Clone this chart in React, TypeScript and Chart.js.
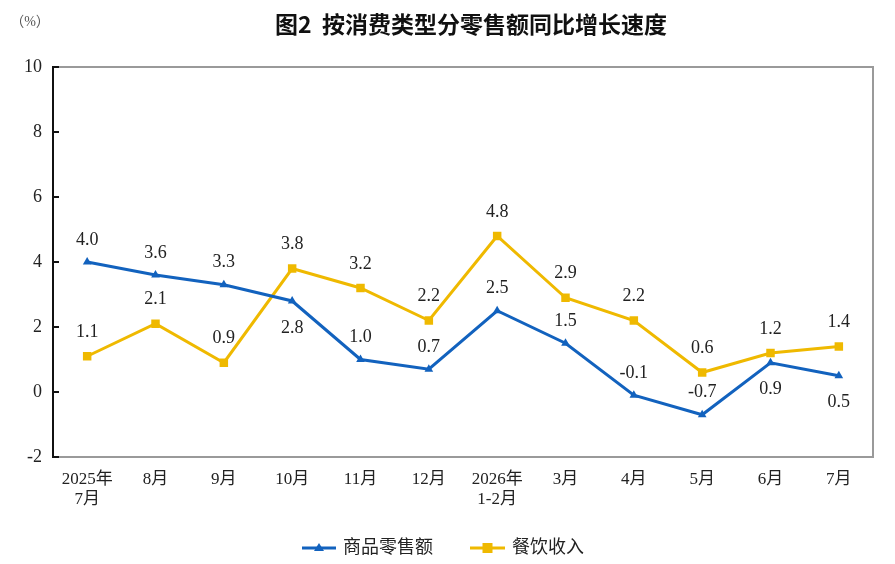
import { useEffect, useRef } from "react"
import { Chart, registerables } from "chart.js"

Chart.register(...registerables)

const categories = [
  ["2025年", "7月"],
  "8月",
  "9月",
  "10月",
  "11月",
  "12月",
  ["2026年", "1-2月"],
  "3月",
  "4月",
  "5月",
  "6月",
  "7月",
]
const goodsRetail = [4.0, 3.6, 3.3, 2.8, 1.0, 0.7, 2.5, 1.5, -0.1, -0.7, 0.9, 0.5]
const cateringIncome = [1.1, 2.1, 0.9, 3.8, 3.2, 2.2, 4.8, 2.9, 2.2, 0.6, 1.2, 1.4]
const yTicks = [-2, 0, 2, 4, 6, 8, 10]

const goodsLabelBelow = [false, false, false, true, false, false, false, false, false, false, true, true]

const BLUE = "#1262BE"
const YELLOW = "#EFB900"
const SERIF = "'Liberation Serif', 'Times New Roman', 'Noto Sans CJK SC', serif"
const SANS = "'Noto Sans CJK SC', 'Noto Sans', sans-serif"

const decorPlugin = {
  id: "decor",
  beforeDatasetsDraw(chart: any) {
    const { ctx, chartArea, scales } = chart
    const { left, right, top, bottom } = chartArea
    ctx.save()
    // grey frame
    ctx.strokeStyle = "#9a9a9a"
    ctx.lineWidth = 2
    ctx.beginPath()
    ctx.moveTo(left, top)
    ctx.lineTo(right, top)
    ctx.lineTo(right, bottom)
    ctx.lineTo(left, bottom)
    ctx.stroke()
    // black left axis with inward ticks
    ctx.strokeStyle = "#111"
    ctx.lineWidth = 2
    ctx.beginPath()
    ctx.moveTo(left, top - 1)
    ctx.lineTo(left, bottom + 1)
    yTicks.forEach((v) => {
      const y = scales.y.getPixelForValue(v)
      ctx.moveTo(left, y)
      ctx.lineTo(left + 6, y)
    })
    ctx.stroke()
    ctx.restore()
  },
  afterDatasetsDraw(chart: any) {
    const { ctx, scales } = chart
    ctx.save()
    ctx.font = `18px ${SERIF}`
    ctx.fillStyle = "#222"
    ctx.textAlign = "center"
    ctx.textBaseline = "middle"
    goodsRetail.forEach((v, i) => {
      const x = scales.x.getPixelForValue(i)
      const y = scales.y.getPixelForValue(v)
      ctx.fillText(v.toFixed(1), x, goodsLabelBelow[i] ? y + 27 : y - 22)
    })
    cateringIncome.forEach((v, i) => {
      const x = scales.x.getPixelForValue(i)
      const y = scales.y.getPixelForValue(v)
      ctx.fillText(v.toFixed(1), x, y - 24)
    })

    // title
    ctx.font = `bold 23px ${SANS}`
    ctx.fillStyle = "#111"
    ctx.fillText("图2  按消费类型分零售额同比增长速度", 471, 24)
    ctx.font = `14px ${SERIF}`
    ctx.fillStyle = "#555"
    ctx.fillText("（%）", 30, 22)

    // legend
    const ly = 548
    const drawItem = (x0: number, x1: number, color: string, shape: "tri" | "sq", text: string, tx: number) => {
      ctx.strokeStyle = color
      ctx.fillStyle = color
      ctx.lineWidth = 3
      ctx.beginPath()
      ctx.moveTo(x0, ly)
      ctx.lineTo(x1, ly)
      ctx.stroke()
      const cx = (x0 + x1) / 2
      ctx.beginPath()
      if (shape === "tri") {
        ctx.moveTo(cx, ly - 5)
        ctx.lineTo(cx + 5, ly + 3)
        ctx.lineTo(cx - 5, ly + 3)
      } else {
        ctx.rect(cx - 5, ly - 5, 10, 10)
      }
      ctx.fill()
      ctx.fillStyle = "#222"
      ctx.font = `18px ${SERIF}`
      ctx.textAlign = "left"
      ctx.fillText(text, tx, ly)
    }
    drawItem(302, 336, BLUE, "tri", "商品零售额", 343)
    drawItem(470, 505, YELLOW, "sq", "餐饮收入", 512)
    ctx.restore()
  },
}

export default function App() {
  const chartRef = useRef<HTMLCanvasElement>(null)
  const chartInstance = useRef<Chart | null>(null)

  useEffect(() => {
    if (!chartRef.current) return
    if (chartInstance.current) chartInstance.current.destroy()
    const ctx = chartRef.current.getContext("2d")
    if (!ctx) return

    chartInstance.current = new Chart(ctx, {
      type: "line",
      data: {
        labels: categories,
        datasets: [
          {
            label: "商品零售额",
            data: goodsRetail,
            borderColor: BLUE,
            backgroundColor: BLUE,
            borderWidth: 3,
            pointStyle: "triangle",
            pointRadius: 5,
            pointBorderWidth: 0,
            tension: 0,
          },
          {
            label: "餐饮收入",
            data: cateringIncome,
            borderColor: YELLOW,
            backgroundColor: YELLOW,
            borderWidth: 3,
            pointStyle: "rect",
            pointRadius: 6,
            pointBorderWidth: 0,
            tension: 0,
          },
        ],
      },
      options: {
        responsive: false,
        animation: false,
        layout: { padding: { top: 67, right: 22, bottom: 57, left: 0 } },
        plugins: {
          legend: { display: false },
          tooltip: { enabled: false },
        },
        scales: {
          x: {
            offset: true,
            grid: { display: false, drawTicks: false },
            border: { display: false },
            ticks: {
              color: "#222",
              font: { family: SERIF, size: 17, lineHeight: 1.15 },
              padding: 13,
              maxRotation: 0,
              autoSkip: false,
            },
            afterFit: (scale: any) => {
              scale.height = 50
            },
          },
          y: {
            min: -2,
            max: 10,
            grid: { display: false, drawTicks: false },
            border: { display: false },
            ticks: {
              stepSize: 2,
              color: "#222",
              font: { family: SERIF, size: 18 },
              padding: 11,
            },
            afterFit: (scale: any) => {
              scale.width = 53
            },
          },
        },
      },
      plugins: [decorPlugin],
    })

    return () => {
      if (chartInstance.current) {
        chartInstance.current.destroy()
        chartInstance.current = null
      }
    }
  }, [])

  return (
    <div style={{ position: "fixed", left: 0, top: 0, width: 895, height: 564, background: "#fff" }}>
      <canvas ref={chartRef} width={895} height={564} style={{ width: 895, height: 564 }}></canvas>
    </div>
  )
}
